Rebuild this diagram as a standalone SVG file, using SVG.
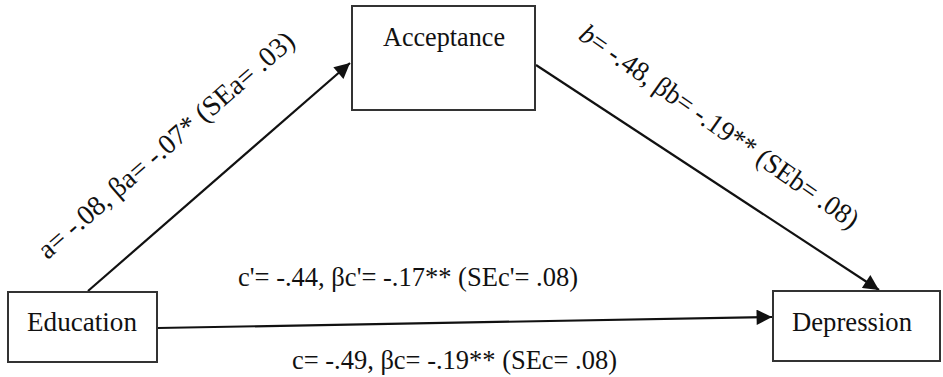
<svg xmlns="http://www.w3.org/2000/svg" width="943" height="377" viewBox="0 0 943 377">
<style>
.box{fill:#fff;stroke:#333;stroke-width:2}
.lbl{font-family:"Liberation Serif","Times New Roman",serif;font-size:28px;fill:#111}
.edge{stroke:#111;stroke-width:2.2;fill:none}
</style>
<defs>
<marker id="ah" viewBox="0 0 10 10" refX="10" refY="5" markerWidth="7.5" markerHeight="7" markerUnits="strokeWidth" orient="auto">
<path d="M0,0 L10,5 L0,10 z" fill="#111"/>
</marker>
</defs>
<rect width="943" height="377" fill="#fff"/>
<g id="connectors">
<line class="edge" x1="88" y1="291" x2="350" y2="63" marker-end="url(#ah)"/>
<line class="edge" x1="536" y1="65" x2="879" y2="290" marker-end="url(#ah)"/>
<line class="edge" x1="158" y1="328" x2="772" y2="317" marker-end="url(#ah)"/>
<text class="lbl" text-anchor="middle" transform="translate(172,152) rotate(-41)" textLength="330" lengthAdjust="spacingAndGlyphs">a= -.08, βa= -.07* (SEa= .03)</text>
<text class="lbl" text-anchor="middle" transform="translate(714,134) rotate(35)" textLength="334" lengthAdjust="spacingAndGlyphs"><tspan font-style="italic">b</tspan>= -.48, βb= -.19** (SEb= .08)</text>
<text class="lbl" x="238" y="286" textLength="340" lengthAdjust="spacingAndGlyphs">c'= -.44, βc'= -.17** (SEc'= .08)</text>
<text class="lbl" x="292" y="369" textLength="325" lengthAdjust="spacingAndGlyphs">c= -.49, βc= -.19** (SEc= .08)</text>
</g>
<g id="acceptance">
<rect class="box" x="352" y="6" width="183" height="104"/>
<text class="lbl" x="383" y="46" textLength="122" lengthAdjust="spacingAndGlyphs">Acceptance</text>
</g>
<g id="education">
<rect class="box" x="8" y="292" width="149" height="70"/>
<text class="lbl" x="27" y="331" textLength="110" lengthAdjust="spacingAndGlyphs">Education</text>
</g>
<g id="depression">
<rect class="box" x="773" y="291" width="167" height="70"/>
<text class="lbl" x="792" y="331" textLength="120" lengthAdjust="spacingAndGlyphs">Depression</text>
</g>
</svg>
